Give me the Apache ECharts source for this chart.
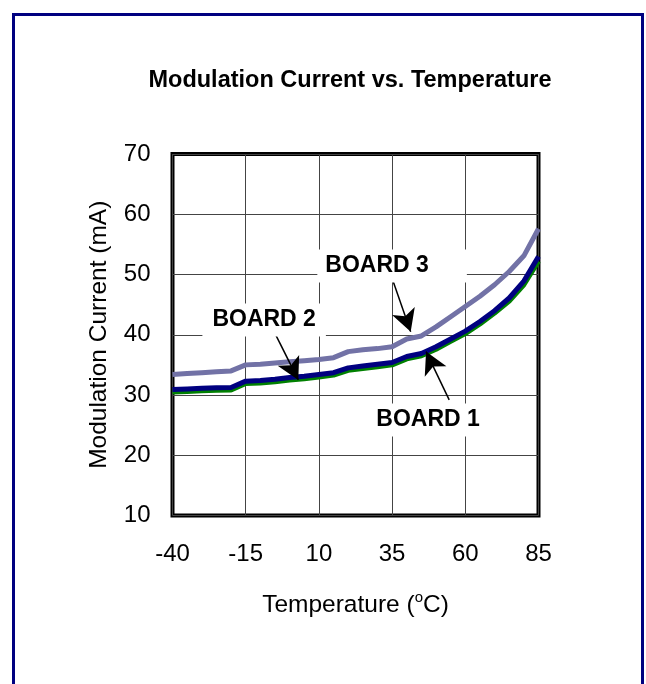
<!DOCTYPE html>
<html>
<head>
<meta charset="utf-8">
<script src="https://cdn.jsdelivr.net/npm/echarts@6/dist/echarts.min.js"></script>
<style>
  html, body { margin: 0; padding: 0; background: #fff; }
  #chart { width: 646px; height: 684px; }
</style>
</head>
<body>
<div id="chart"></div>
<script>
// temperature (°C) and modulation current (mA) per board
var temps = [-40, -35, -30, -25, -20, -15, -10, -5, 0, 5, 10, 15, 20, 25, 30, 35, 40, 45, 50, 55, 60, 65, 70, 75, 80, 85];
var board1 = [30.9, 31.0, 31.1, 31.2, 31.25, 32.3, 32.4, 32.6, 32.9, 33.1, 33.4, 33.7, 34.5, 34.8, 35.1, 35.4, 36.4, 36.9, 38.0, 39.3, 40.6, 42.2, 44.0, 46.1, 48.9, 53.0];
var board2 = [30.5, 30.6, 30.7, 30.8, 30.85, 31.9, 32.0, 32.2, 32.5, 32.7, 33.0, 33.3, 34.1, 34.4, 34.7, 35.0, 36.0, 36.5, 37.6, 38.9, 40.2, 41.8, 43.6, 45.6, 48.3, 52.2];
var board3 = [33.4, 33.55, 33.7, 33.85, 34.0, 35.0, 35.1, 35.3, 35.5, 35.7, 35.9, 36.2, 37.2, 37.5, 37.7, 38.0, 39.3, 39.8, 41.3, 43.0, 44.7, 46.4, 48.3, 50.5, 53.1, 57.6];

var xTicks = [-40, -15, 10, 35, 60, 85];
var yTicks = [10, 20, 30, 40, 50, 60, 70];

// callout labels: [text, labelX, labelY, arrowFromX, arrowFromY, arrowToX, arrowToY] in data units
var notes = [
    ['BOARD 3', 35.0, 51.4, 34.6, 49.9, 41.35, 40.5],
    ['BOARD 2', -8.7, 42.45, -5.6, 40.8, 2.96, 32.5],
    ['BOARD 1', 47.3, 25.85, 54.5, 29.2, 46.6, 37.2]
];
var notePads = [[6, 38, 4, 8], [6, 10, 4, 10], [6, 10, 4, 10]];

function pairs(ys){
    return temps.map(function(t, i){ return [t, ys[i]]; });
}

var chart = echarts.init(document.getElementById('chart'));
var sans = "'Liberation Sans', Arial, sans-serif";

var option = {
    backgroundColor: '#fff',
    animation: false,
    title: {
        text: 'Modulation Current vs. Temperature',
        left: 345,
        top: 64,
        textAlign: 'center',
        textStyle: { fontSize: 23.5, fontWeight: 'bold', fontFamily: sans, color: '#000' }
    },
    graphic: [{
        type: 'rect',
        shape: { x: 13.5, y: 14.5, width: 629, height: 720 },
        style: { fill: 'none', stroke: '#000080', lineWidth: 3 },
        silent: true
    }],
    grid: {
        left: 172.5, top: 154, right: 107.5, bottom: 168.5,
        show: true, borderColor: '#000', borderWidth: 4, backgroundColor: 'transparent'
    },
    xAxis: {
        type: 'value',
        min: xTicks[0], max: xTicks[xTicks.length - 1], interval: 25,
        name: 'Temperature (' + '{sup|o}' + 'C)',
        nameLocation: 'middle',
        nameGap: 75,
        nameTextStyle: {
            fontSize: 24.5, fontFamily: sans, color: '#000',
            rich: { sup: { fontSize: 15, fontFamily: sans, verticalAlign: 'top', padding: [0, 0, 14, 0] } }
        },
        axisLine: { show: false },
        axisTick: { show: false },
        axisLabel: { margin: 27, fontSize: 24, fontFamily: sans, color: '#000' },
        splitLine: { show: true, lineStyle: { color: '#444', width: 1 } }
    },
    yAxis: {
        type: 'value',
        min: yTicks[0], max: yTicks[yTicks.length - 1], interval: 10,
        name: 'Modulation Current (mA)',
        nameLocation: 'middle',
        nameGap: 61,
        nameTextStyle: { fontSize: 24.5, fontFamily: sans, color: '#000' },
        axisLine: { show: false },
        axisTick: { show: false },
        axisLabel: { margin: 22, fontSize: 24, fontFamily: sans, color: '#000' },
        splitLine: { show: true, lineStyle: { color: '#444', width: 1 } }
    },
    series: [
        {
            name: 'BOARD 2', type: 'line', data: pairs(board2),
            showSymbol: false, lineStyle: { color: '#008000', width: 5 }, z: 2
        },
        {
            name: 'BOARD 1', type: 'line', data: pairs(board1),
            showSymbol: false, lineStyle: { color: '#000080', width: 5 }, z: 3
        },
        {
            name: 'BOARD 3', type: 'line', data: pairs(board3),
            showSymbol: false, lineStyle: { color: '#7272A6', width: 5 }, z: 4,
            markLine: {
                silent: true,
                symbol: ['none', 'arrow'],
                symbolSize: [18, 22],
                label: { show: false },
                lineStyle: { color: '#000', width: 1.5, type: 'solid' },
                data: notes.map(function(n){
                    return [{ coord: [n[3], n[4]] }, { coord: [n[5], n[6]] }];
                })
            },
            markPoint: {
                silent: true,
                symbol: 'rect',
                symbolSize: 1,
                itemStyle: { color: 'rgba(0,0,0,0)' },
                label: {
                    show: true,
                    position: 'inside',
                    fontSize: 23,
                    fontWeight: 'bold',
                    fontFamily: sans,
                    color: '#000',
                    backgroundColor: '#fff',
                    formatter: function(p){ return p.name; }
                },
                data: notes.map(function(n, i){
                    return { name: n[0], coord: [n[1], n[2]], label: { padding: notePads[i] } };
                })
            }
        }
    ]
};

chart.setOption(option);
window.addEventListener('resize', chart.resize);
</script>
</body>
</html>
